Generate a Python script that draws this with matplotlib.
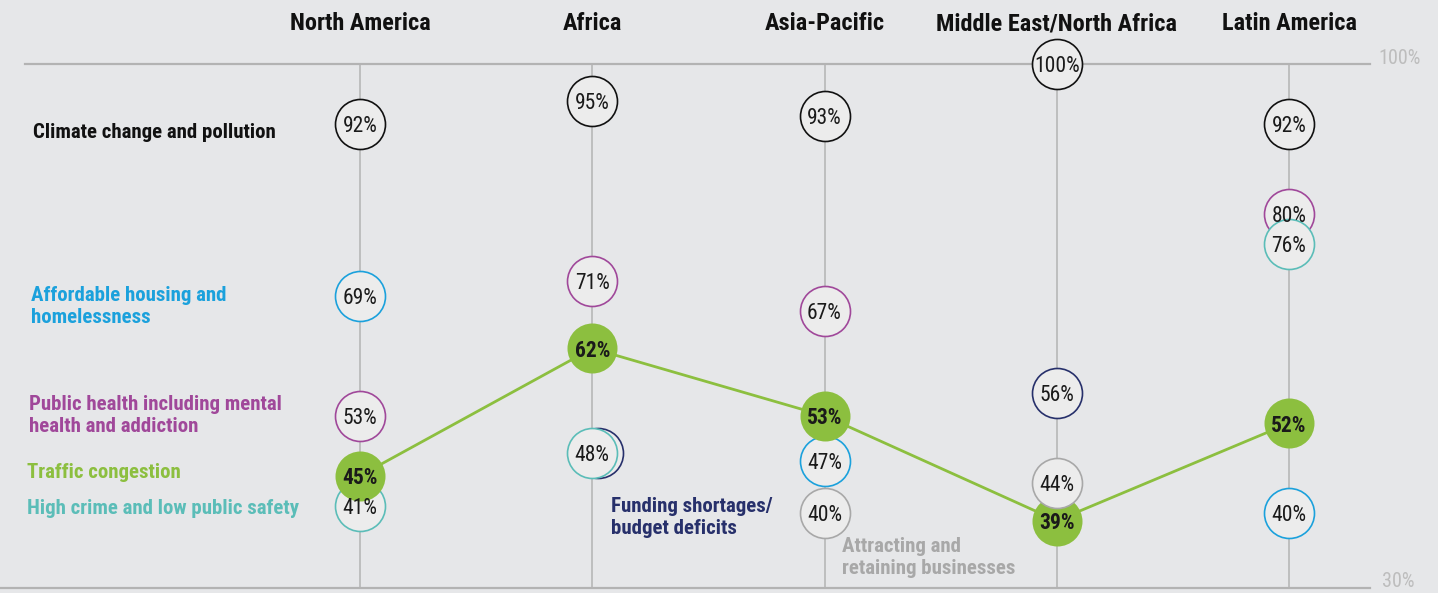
import numpy as np
import matplotlib
matplotlib.use("Agg")
import matplotlib.pyplot as plt
import matplotlib.transforms as mtransforms
from matplotlib import font_manager

nan = np.nan

# ---- data ----
regions = ["North America", "Africa", "Asia-Pacific", "Middle East/North Africa", "Latin America"]

climate    = [92, 95, 93, 100, 92]
housing    = [69, nan, 47, nan, 40]
health     = [53, 71, 67, nan, 80]
traffic    = [45, 62, 53, 39, 52]
crime      = [41, 48, nan, nan, 76]
funding    = [nan, 48, nan, 56, nan]
attracting = [nan, nan, 40, 44, nan]

# ---- fonts ----
names = {f.name for f in font_manager.fontManager.ttflist}
font = "Roboto"
for cand in ["Roboto Condensed", "Liberation Sans Narrow", "Roboto"]:
    if cand in names:
        font = cand
        break
plt.rcParams["font.family"] = [font, "DejaVu Sans"]

BG = "#e6e7e9"
FACE = "#ececec"
GRID = "#b3b3b3"

W, H = 1438, 593
fig = plt.figure(figsize=(W / 100, H / 100), dpi=100, facecolor=BG)
ax = fig.add_axes([0, 0, 1, 1])
ax.set_facecolor(BG)

# pixel layout -> data limits
x0_px, dx_px = 360, 232.25
y100_px, y30_px = 64, 588
ppp = (y30_px - y100_px) / 70.0
ax.set_xlim(-x0_px / dx_px, (W - x0_px) / dx_px)
ax.set_ylim(30 - (H - y30_px) / ppp, 100 + y100_px / ppp)
ax.axis("off")

xs = np.arange(len(regions))

# frame lines
ax.plot([(25 - x0_px) / dx_px, (1370 - x0_px) / dx_px], [100, 100], color=GRID, lw=1.6, zorder=1)
ax.plot([ax.get_xlim()[0], (1370 - x0_px) / dx_px], [30, 30], color=GRID, lw=1.6, zorder=1)
for x in xs:
    ax.plot([x, x], [30, 100], color=GRID, lw=1.1, zorder=1)

ax.text((1378 - x0_px) / dx_px, 99.4, "100%", color="#bdbdbd", fontsize=14.5, va="bottom", ha="left")
ax.text((1382 - x0_px) / dx_px, 29.6, "30%", color="#bdbdbd", fontsize=14.5, va="bottom", ha="left")

# region headers
for x, r in zip(xs, regions):
    ax.text(x, 100 + (64 - 21) / ppp, r, ha="center", va="center_baseline", fontsize=17.5,
            fontweight="bold", color="#111111")

S = 36 ** 2

def bubbles(vals, color, z, offset_px=0, bold=False, face=FACE, lw=1.2, text=True):
    vals = np.array(vals, dtype=float)
    ok = ~np.isnan(vals)
    tr = ax.transData + mtransforms.ScaledTranslation(offset_px / 100, 0, fig.dpi_scale_trans)
    ax.scatter(xs[ok], vals[ok], s=S, facecolor=face, edgecolor=color, linewidth=lw,
               zorder=z, transform=tr)
    if text:
        for x, v in zip(xs[ok], vals[ok]):
            ax.text(x, v, f"{int(v)}%", ha="center", va="center_baseline", fontsize=15.5,
                    fontweight="bold" if bold else "normal", color="#1a1a1a", zorder=10)

# Africa: funding circle sits just behind the crime circle, nudged right
funding_af = [v if i == 1 else nan for i, v in enumerate(funding)]
funding_rest = [v if i != 1 else nan for i, v in enumerate(funding)]
bubbles(funding_af, "#27306b", 3, offset_px=6, text=False)
bubbles(funding_rest, "#27306b", 3.2)
bubbles(climate, "#111111", 3)
bubbles(housing, "#1ba1dc", 3)
bubbles(health, "#a0489a", 3)
bubbles(crime, "#5bbdb8", 3.4)

ax.plot(xs, traffic, color="#8cbf3f", lw=2, zorder=2)
bubbles(traffic, "#8cbf3f", 4, bold=True, face="#8cbf3f", lw=0)
bubbles(attracting, "#a8a8a8", 5)

# category labels
def label(px, py, txt, color):
    fig.text(px / W, 1 - py / H, txt, ha="left", va="center", fontsize=15,
             fontweight="bold", color=color, linespacing=1.2)

label(33, 132, "Climate change and pollution", "#111111")
label(31, 306, "Affordable housing and\nhomelessness", "#1ba1dc")
label(29, 415, "Public health including mental\nhealth and addiction", "#a0489a")
label(27, 472, "Traffic congestion", "#8cbf3f")
label(27, 508, "High crime and low public safety", "#5bbdb8")
label(611, 517, "Funding shortages/\nbudget deficits", "#27306b")
label(842, 557, "Attracting and\nretaining businesses", "#a8a8a8")

fig.savefig("out.png", dpi=100, facecolor=BG)
